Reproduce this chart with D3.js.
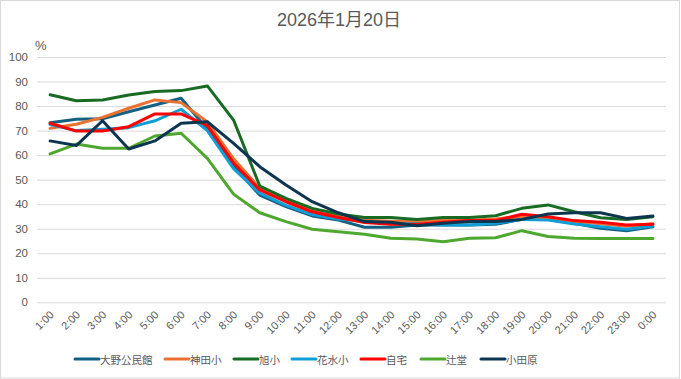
<!DOCTYPE html>
<html><head><meta charset="utf-8">
<script src="https://cdn.jsdelivr.net/npm/d3@7"></script>
<style>
html,body{margin:0;padding:0;background:#fff;}
text{font-family:"Noto Sans CJK JP","Noto Sans",sans-serif;fill:#595959;}
</style></head>
<body><svg id="c" width="681" height="379"></svg>
<script>
const title = "2026年1月20日";
const categories = ["1:00","2:00","3:00","4:00","5:00","6:00","7:00","8:00","9:00","10:00","11:00","12:00","13:00","14:00","15:00","16:00","17:00","18:00","19:00","20:00","21:00","22:00","23:00","0:00"];
const yTicks = [0,10,20,30,40,50,60,70,80,90,100];
const seriesNames = ["大野公民館","神田小","旭小","花水小","自宅","辻堂","小田原"];
const seriesColors = ["#156082","#E97132","#196B24","#0F9ED5","#FF0000","#4EA72E","#0E3550"];
const ohno   = [73.2,74.6,74.8,77.7,80.4,83.2,70.5,55.5,43.7,39,35.2,33.5,30.6,30.6,31.5,31.5,31.5,31.8,33.8,34.2,32.2,30.2,29.2,30.8];
const kanda  = [70.9,72.6,75.4,79.1,82.5,81.4,73.5,58.5,46.5,41.5,37.5,35,33.5,33,33,33.5,33.5,34,35,34,33,32,31,32];
const asahi  = [84.6,82.2,82.5,84.5,85.9,86.3,88.2,74.3,47.4,42.4,38.3,36,34.6,34.6,33.8,34.6,34.6,35.3,38.3,39.7,36.9,34.5,33.8,34.9];
const hanami = [72.5,70,70.5,71.2,74,78.7,70,54.5,44.5,39.5,35.8,34,33,32,32,31.5,31.5,32.2,33.8,33.5,31.9,30.8,29.8,31.1];
const jitaku = [73,69.8,69.8,71.6,76.8,76.8,72,56.8,45.8,41,36.9,34.6,32.5,31.8,31.8,32.6,33.3,33.3,35.9,34.9,33.3,32.6,31.5,31.8];
const tsuji  = [60.5,64.5,62.8,62.8,67.8,68.9,58.7,44.1,36.5,32.9,29.8,28.8,27.7,26.1,25.8,24.7,26.1,26.3,29.2,26.8,26.1,26,26,26];
const odawara= [65.8,63.9,74,62.5,65.8,73,73.6,64.8,55.3,47.8,41,36.5,32.9,32.6,31.2,32.2,32.9,32.9,33.8,36,36.5,36.5,34.2,35.2];
const seriesValues = [ohno,kanda,asahi,hanami,jitaku,tsuji,odawara];

(function(){
const svg = d3.select("#c");
svg.append("rect").attr("x",0.5).attr("y",0.5).attr("width",679).attr("height",377.5)
  .attr("fill","#fff").attr("stroke","#d9d9d9").attr("stroke-width",1);

const pl = 37, pr = 666, pt = 57, pb = 302.3;
const x = d3.scalePoint().domain(categories).range([pl, pr]).padding(0.5);
const y = d3.scaleLinear().domain([0,100]).range([pb, pt]);

svg.append("text").attr("x",339).attr("y",26).attr("text-anchor","middle")
  .style("font-size","18px").style("font-family","'Liberation Sans','Noto Sans CJK JP',sans-serif").text(title);

const yAxis = d3.axisLeft(y).tickValues(yTicks).tickSize(-(pr-pl)).tickPadding(9);
const gy = svg.append("g").attr("transform",`translate(${pl},0)`).call(yAxis);
gy.select(".domain").remove();
gy.selectAll("line").attr("stroke","#d9d9d9").attr("stroke-width",1);
gy.selectAll("text").style("font-size","11.5px").style("font-family","'Liberation Sans',sans-serif").attr("fill","#595959");

svg.append("text").attr("x",35).attr("y",50).style("font-size","13px")
  .style("font-family","'Liberation Sans',sans-serif").text("%");

const xAxis = d3.axisBottom(x).tickSize(0).tickPadding(0);
const gx = svg.append("g").attr("transform",`translate(0,${pb})`).call(xAxis);
gx.select(".domain").remove();
gx.selectAll("text").attr("text-anchor","end").attr("dy","0")
  .attr("transform","translate(4,13) rotate(-45)")
  .style("font-size","11px").style("font-family","'Liberation Sans',sans-serif").attr("fill","#595959");

const line = d3.line().x((d,i)=>x(categories[i])).y(d=>y(d));
seriesValues.forEach((vals,k)=>{
  svg.append("path").datum(vals).attr("d",line).attr("fill","none")
    .attr("stroke",seriesColors[k]).attr("stroke-width",3)
    .attr("stroke-linejoin","round").attr("stroke-linecap","round");
});

const legendX = [75,165,234,292,361,421,481];
const lg = svg.append("g");
seriesNames.forEach((n,k)=>{
  const lx = legendX[k];
  lg.append("line").attr("x1",lx).attr("x2",lx+24).attr("y1",359).attr("y2",359)
    .attr("stroke",seriesColors[k]).attr("stroke-width",3).attr("stroke-linecap","round");
  lg.append("text").attr("x",lx+25).attr("y",363.5).style("font-size","10.5px").text(n);
});
})();
</script></body></html>
